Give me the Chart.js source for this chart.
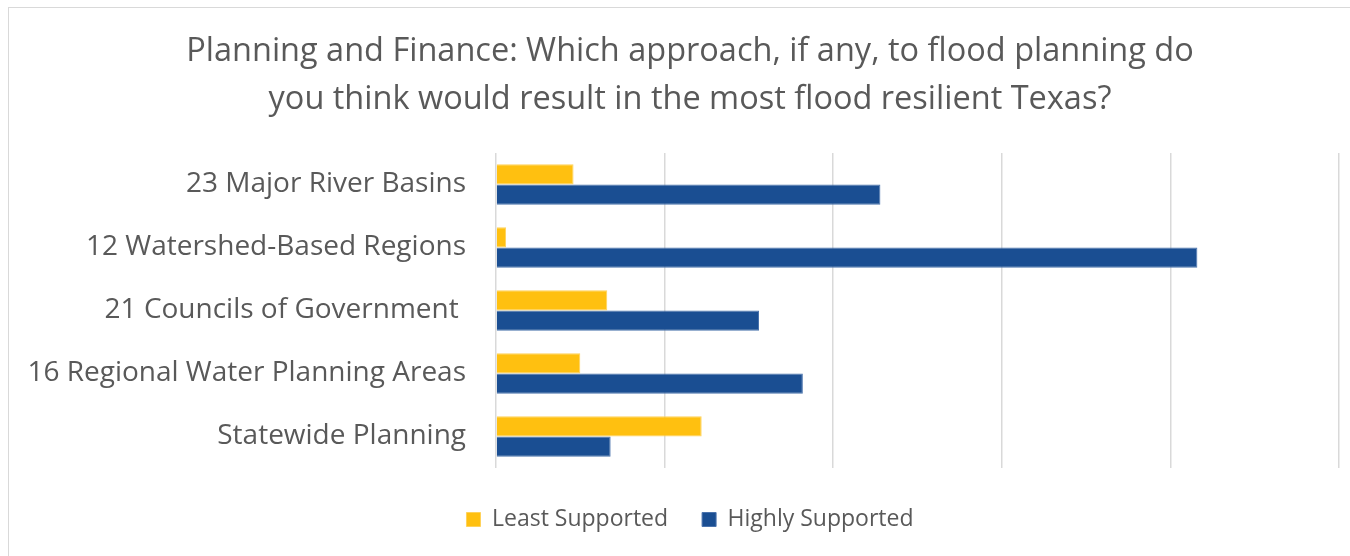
<!DOCTYPE html>
<html>
<head>
<meta charset="utf-8">
<script src="https://cdn.jsdelivr.net/npm/chart.js@4/dist/chart.umd.min.js"></script>
<style>
  html, body { margin: 0; padding: 0; background: #fff; overflow: hidden; }
  #frame {
    position: absolute; left: 8px; top: 7px;
    width: 1362px; height: 560px;
    border: 1px solid #d9d9d9;
  }
</style>
</head>
<body>
<div id="frame"><canvas id="floodChart"></canvas></div>
<script>
// chart values (percent of respondents)
const categories = [
  '23 Major River Basins',
  '12 Watershed-Based Regions',
  '21 Councils of Government ',
  '16 Regional Water Planning Areas',
  'Statewide Planning'
];
const leastSupported = [4.6, 0.6, 6.6, 5.0, 12.2];
const highlySupported = [22.8, 41.6, 15.6, 18.2, 6.8];
const titleLines = [
  'Planning and Finance: Which approach, if any, to flood planning do',
  'you think would result in the most flood resilient Texas?'
];

const textColor = '#595959';
const fontFamily = '"Open Sans", sans-serif';

// the longest label runs past the padded y box; widen the box so its labels aren't clipped
const widenLabelBox = {
  id: 'widenLabelBox',
  afterLayout(chart) {
    chart.scales.y.left = 0;
  }
};

const ctx = document.getElementById('floodChart').getContext('2d');
new Chart(ctx, {
  type: 'bar',
  data: {
    labels: categories,
    datasets: [
      {
        label: 'Least Supported',
        data: leastSupported,
        backgroundColor: '#FFC010',
        borderColor: '#FFD25A',
        borderWidth: 1
      },
      {
        label: 'Highly Supported',
        data: highlySupported,
        backgroundColor: '#1A4E92',
        borderColor: '#4A73AD',
        borderWidth: 1
      }
    ]
  },
  plugins: [widenLabelBox],
  options: {
    indexAxis: 'y',
    responsive: true,
    maintainAspectRatio: false,
    animation: false,
    devicePixelRatio: 1,
    categoryPercentage: 0.64,
    barPercentage: 1.0,
    // symmetric side padding keeps title and legend centred on the frame
    layout: { padding: { left: 32, right: 32, top: 0, bottom: 27 } },
    plugins: {
      title: {
        display: true,
        text: titleLines,
        color: textColor,
        font: { family: fontFamily, size: 32.5, weight: 'normal', lineHeight: 48 / 32.5 },
        padding: { top: 20, bottom: 29 }
      },
      legend: {
        position: 'bottom',
        labels: {
          color: textColor,
          font: { family: fontFamily, size: 23 },
          boxWidth: 14,
          boxHeight: 14,
          padding: 34
        }
      },
      tooltip: { enabled: false }
    },
    scales: {
      x: {
        min: 0,
        max: 50,
        ticks: { display: false, stepSize: 10 },
        grid: { color: '#d9d9d9', lineWidth: 1.5, drawTicks: false },
        border: { display: false },
        afterFit: (scale) => { scale.height = 6; }
      },
      y: {
        ticks: {
          color: textColor,
          font: { family: fontFamily, size: 28 },
          padding: 30
        },
        grid: { display: false, drawTicks: false },
        border: { display: false },
        afterFit: (scale) => { scale.width = 455; }
      }
    }
  }
});
</script>
</body>
</html>
